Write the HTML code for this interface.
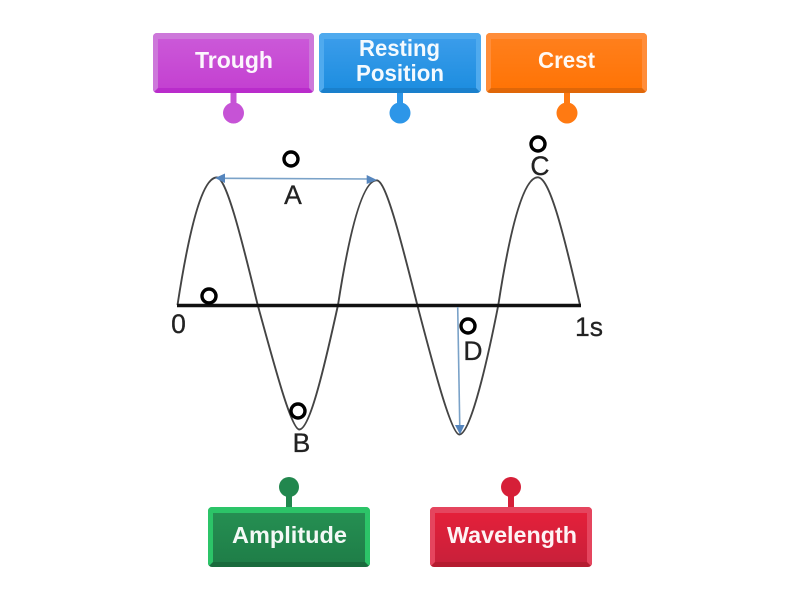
<!DOCTYPE html>
<html><head><meta charset="utf-8"><style>
html,body{margin:0;padding:0;background:#fff}
#c{position:relative;width:800px;height:600px;overflow:hidden;background:#fff}
.b{position:absolute;width:162px;height:60px;box-sizing:border-box;border-radius:4px;border-style:solid;border-width:6px 5px 5px 5px}
svg{position:absolute;left:0;top:0}
.t{font-family:"Liberation Sans",sans-serif;font-weight:bold;font-size:23px;fill:#fff;fill-opacity:.95}
.l{font-family:"Liberation Sans",sans-serif;font-size:26.5px;fill:#222;stroke:#222;stroke-width:.3;text-anchor:middle}
</style></head><body><div id="c">
<div class="b" style="left:153px;top:33px;width:161px;border-color:#cd78da #cd78da #b92ccb;background:linear-gradient(#cb58d8,#c441d1)"></div>
<div class="b" style="left:319px;top:33px;border-color:#4faaee #4faaee #1a80cc;background:linear-gradient(#3a9cea,#1e8ee0)"></div>
<div class="b" style="left:486px;top:33px;width:161px;border-color:#ff8d3a #ff8d3a #e06708;background:linear-gradient(#ff7f1c,#ff7406)"></div>
<div class="b" style="left:208px;top:507px;border-color:#2cc468 #2cc468 #1a6b3d;background:linear-gradient(#258f52,#1f7e48)"></div>
<div class="b" style="left:430px;top:507px;border-color:#e5455e #e5455e #b51c30;background:linear-gradient(#e4203a,#c9203a)"></div>
<svg width="800" height="600" viewBox="0 0 800 600">
<g>
<rect x="230.5" y="93" width="6" height="12" fill="#c653d6"/><circle cx="233.5" cy="113" r="10.5" fill="#c653d6"/>
<rect x="397" y="93" width="6" height="12" fill="#2d96e8"/><circle cx="400" cy="113" r="10.5" fill="#2d96e8"/>
<rect x="564" y="93" width="6" height="12" fill="#ff7a12"/><circle cx="567" cy="113" r="10.5" fill="#ff7a12"/>
<rect x="286" y="495" width="6" height="12" fill="#22874e"/><circle cx="289" cy="487" r="10" fill="#22874e"/>
<rect x="508" y="495" width="6" height="12" fill="#d61f38"/><circle cx="511" cy="487" r="10" fill="#d61f38"/>
</g>
<text class="t" x="195" y="68" textLength="78" lengthAdjust="spacingAndGlyphs">Trough</text>
<text class="t" x="359" y="56" textLength="81" lengthAdjust="spacingAndGlyphs">Resting</text>
<text class="t" x="356" y="81" textLength="88" lengthAdjust="spacingAndGlyphs">Position</text>
<text class="t" x="538" y="68" textLength="57" lengthAdjust="spacingAndGlyphs">Crest</text>
<text class="t" x="232" y="543" textLength="115" lengthAdjust="spacingAndGlyphs">Amplitude</text>
<text class="t" x="447" y="543" textLength="130" lengthAdjust="spacingAndGlyphs">Wavelength</text>

<path fill="none" stroke="#444" stroke-width="1.9" d="M177.5 305C190.600 220 203.600 177.500 216.700 177.500C226 177.500 240 232 257.700 305C273 360 291 429.500 299.300 429.500C309 429.500 322 378 338 305C350.900 221.900 363.800 180.300 376.700 180.300C385.500 180.300 399.500 234 417.300 305C432 361 451 434.500 459.300 434.500C469 434.500 484 378 498.300 305C511.400 220 524.600 177.300 537.700 177.300C549 177.300 562 226 580 305"/>
<line x1="177" y1="305.5" x2="581" y2="305.5" stroke="#111" stroke-width="3.4"/>
<line x1="222" y1="178.300" x2="370" y2="179" stroke="#7aa2c8" stroke-width="1.6"/>
<polygon points="215,178 225,173.500 225,183" fill="#5585bd"/>
<polygon points="377,180 366.700,175 366.700,184" fill="#5585bd"/>
<line x1="457.700" y1="307" x2="459.800" y2="428" stroke="#7aa2c8" stroke-width="1.6"/>
<polygon points="460,434.500 455,425 464.500,425" fill="#5585bd"/>

<text class="l" x="293" y="204">A</text>
<text class="l" x="178.500" y="333">0</text>
<text class="l" x="589" y="336">1s</text>
<text class="l" x="540" y="175">C</text>
<text class="l" x="301.500" y="452">B</text>
<text class="l" x="473" y="360">D</text>

<g fill="none" stroke="#000" stroke-width="3.400">
<circle cx="291" cy="159" r="7"/>
<circle cx="209" cy="296" r="7"/>
<circle cx="538" cy="144" r="7"/>
<circle cx="298" cy="411" r="7"/>
<circle cx="468" cy="326" r="7"/>
</g>
</svg>
</div></body></html>
